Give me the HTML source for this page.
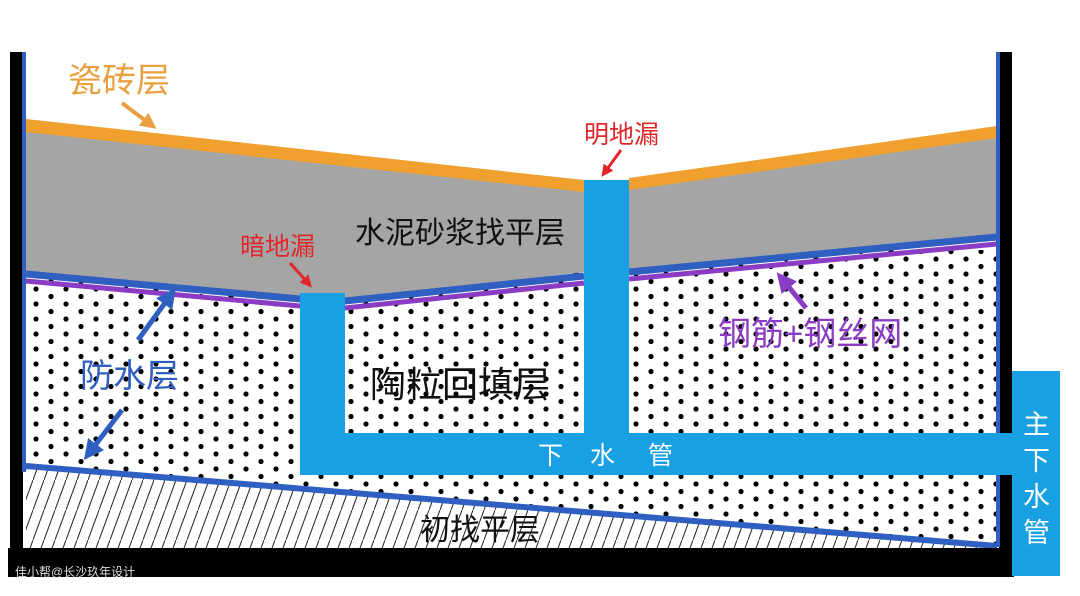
<!DOCTYPE html>
<html><head><meta charset="utf-8"><style>
html,body{margin:0;padding:0;background:#fff;}
svg{display:block;}
text{font-family:"Liberation Sans","Noto Sans CJK SC",sans-serif;}
</style></head><body>
<svg width="1080" height="596" viewBox="0 0 1080 596" xmlns="http://www.w3.org/2000/svg">
<defs>
<pattern id="dots" width="30" height="15" patternUnits="userSpaceOnUse">
<circle cx="6" cy="4" r="2.6" fill="#000"/>
<circle cx="21" cy="11.5" r="2.6" fill="#000"/>
</pattern>
<pattern id="hatch" width="11" height="30" patternUnits="userSpaceOnUse">
<line x1="0" y1="30" x2="11" y2="0" stroke="#222" stroke-width="1"/>
</pattern>
<marker id="ah" markerWidth="4" markerHeight="4" refX="2" refY="2" orient="auto" markerUnits="strokeWidth">
<path d="M0,0 L4,2 L0,4 z" fill="context-stroke"/>
</marker>
</defs>
<rect width="1080" height="596" fill="#fff"/>
<rect x="26" y="250" width="972" height="300" fill="url(#dots)"/>
<polygon points="26,468 997,547 997,550 26,550" fill="#fff"/>
<polygon points="26,468 997,547 997,550 26,550" fill="url(#hatch)"/>
<line x1="26" y1="466" x2="997" y2="546" stroke="#2f5fc0" stroke-width="6"/>
<polygon points="26,130 584,190 584,272 345,300 300,298 26,272" fill="#a5a5a5"/>
<polygon points="629,188 997,136 997,235 629,270" fill="#a5a5a5"/>
<polygon points="26,119 584,180 584,192 26,132" fill="#efa02e"/>
<polygon points="629,178 997,126 997,138 629,190" fill="#efa02e"/>
<polyline points="26,274 300,299 345,301 584,276" fill="none" stroke="#2f5fc0" stroke-width="7"/>
<polyline points="26,281 300,306 345,308 584,283" fill="none" stroke="#8a3cc4" stroke-width="5"/>
<line x1="629" y1="272" x2="997" y2="237" stroke="#2f5fc0" stroke-width="7"/>
<line x1="629" y1="279" x2="997" y2="244" stroke="#8a3cc4" stroke-width="5"/>
<rect x="10" y="52" width="13" height="500" fill="#000"/>
<rect x="22" y="52" width="4" height="420" fill="#2f5fc0"/>
<rect x="999" y="52" width="13" height="500" fill="#000"/>
<rect x="996" y="52" width="4" height="495" fill="#2f5fc0"/>
<rect x="8" y="548" width="1006" height="29" fill="#000"/>
<rect x="584" y="180" width="45" height="260" fill="#18a0e2"/>
<rect x="300" y="293" width="45" height="150" fill="#18a0e2"/>
<rect x="300" y="433" width="712" height="42" fill="#18a0e2"/>
<rect x="1012" y="371" width="48" height="205" fill="#18a0e2"/>
<text x="68" y="92" font-size="34" fill="#e8a040">瓷砖层</text>
<line x1="122" y1="103" x2="150" y2="124" stroke="#e8a040" stroke-width="4" marker-end="url(#ah)"/>
<text x="584" y="143" font-size="25" fill="#e0262a">明地漏</text>
<line x1="621" y1="150" x2="605" y2="172" stroke="#e0262a" stroke-width="3" marker-end="url(#ah)"/>
<text x="240" y="255" font-size="25" fill="#e0262a">暗地漏</text>
<line x1="290" y1="263" x2="308" y2="283" stroke="#e0262a" stroke-width="3" marker-end="url(#ah)"/>
<text x="355" y="243" font-size="30" fill="#111">水泥砂浆找平层</text>
<text x="370" y="397" font-size="36" fill="#111">陶粒回填层</text>
<text x="80" y="387" font-size="33" fill="#2f5fc0">防水层</text>
<line x1="138" y1="340" x2="170" y2="296" stroke="#2f5fc0" stroke-width="5" marker-end="url(#ah)"/>
<line x1="122" y1="410" x2="90" y2="452" stroke="#2f5fc0" stroke-width="5" marker-end="url(#ah)"/>
<text x="718" y="345" font-size="33" fill="#8a3cc4">钢筋+钢丝网</text>
<line x1="806" y1="308" x2="783" y2="280" stroke="#8a3cc4" stroke-width="5" marker-end="url(#ah)"/>
<text x="538" y="464" font-size="25" fill="#fff">下</text>
<text x="590" y="464" font-size="25" fill="#fff">水</text>
<text x="648" y="464" font-size="25" fill="#fff">管</text>
<text x="1023" y="434" font-size="27" fill="#fff">主</text>
<text x="1023" y="470" font-size="27" fill="#fff">下</text>
<text x="1023" y="506" font-size="27" fill="#fff">水</text>
<text x="1023" y="542" font-size="27" fill="#fff">管</text>
<text x="420" y="540" font-size="30" fill="#111">初找平层</text>
<text x="15" y="576" font-size="12" fill="#ddd">佳小帮@长沙玖年设计</text>
</svg>
</body></html>
